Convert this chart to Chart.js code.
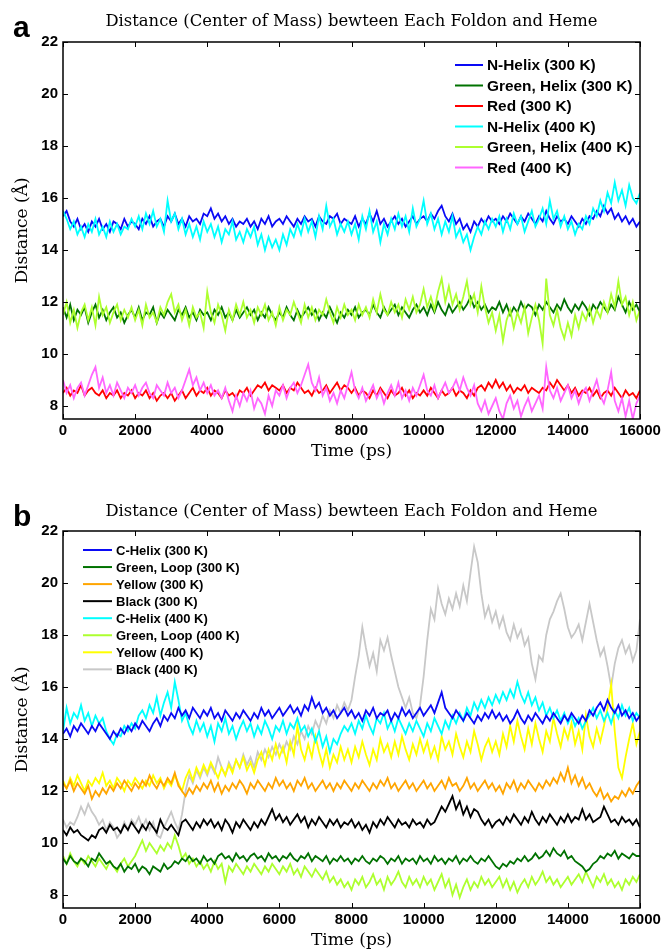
<!DOCTYPE html>
<html>
<head>
<meta charset="utf-8">
<script src="https://cdn.jsdelivr.net/npm/chart.js@4.4.1/dist/chart.umd.min.js"></script>
<style>
  body { margin: 0; background: #fff; }
  .panel { position: absolute; left: 0; width: 662px; height: 460px; }
</style>
</head>
<body>
<div class="panel" style="top:0"><canvas id="chartA" width="662" height="460"></canvas></div>
<div class="panel" style="top:489px"><canvas id="chartB" width="662" height="460"></canvas></div>
<script>
// sampling interval of the trajectories (ps), 161 frames from 0 to 16000
const timeStep = 100;
const yTicks = [8, 10, 12, 14, 16, 18, 20, 22];
const titleText = "Distance (Center of Mass) bewteen Each Foldon and Heme";

// ---- panel a ----
const nHelix300 = [
  15.3, 15.5, 15.1, 14.9, 15.2, 14.8, 15.0, 14.7, 15.1, 14.9, 15.2, 14.8, 15.0, 14.7, 15.1, 15.0, 14.8, 15.2, 14.9, 15.1,
  15.0, 14.8, 15.2, 15.0, 15.3, 14.9, 15.1, 15.2, 14.9, 15.3, 15.1, 15.4, 15.0, 15.2, 14.9, 15.3, 15.1, 15.2, 15.0, 15.4,
  15.3, 15.6, 15.2, 15.4, 15.1, 15.3, 15.0, 15.2, 14.9, 15.1, 15.0, 15.2, 14.9, 15.1, 14.8, 15.2, 15.0, 15.3, 14.9, 15.1,
  15.2, 15.0, 15.3, 15.1, 14.9, 15.2, 15.0, 15.3, 15.1, 15.2, 14.9, 15.3, 15.1, 15.0, 15.3, 15.2, 15.4, 15.0, 15.2, 15.1,
  15.0, 15.3, 14.9, 15.2, 15.0, 15.4, 15.1, 15.5, 15.0, 15.2, 14.9, 15.1, 15.3, 15.0, 15.2, 14.9, 15.1, 15.3, 15.0, 15.2,
  15.3, 15.1, 15.4, 15.2, 15.5, 15.7, 15.3, 15.1, 15.4, 15.0, 15.2, 14.8, 15.0, 14.7, 15.1, 14.9, 15.2, 15.0, 15.3, 15.1,
  15.2, 15.0, 15.3, 15.1, 15.4, 15.2, 15.0, 15.3, 15.1, 15.4, 15.2, 15.0, 15.3, 15.1, 15.5, 15.2, 15.0, 15.3, 15.1, 15.2,
  15.0, 15.3, 15.1, 14.9, 15.2, 15.0, 15.3, 15.2, 15.5, 15.3, 15.7, 15.4, 15.6, 15.2, 15.4, 15.1, 15.3, 15.0, 15.2, 14.9,
  15.1
];
const greenHelix300 = [
  11.8, 11.4, 11.9, 11.3, 11.7, 11.5, 11.8, 11.2, 11.6, 11.9, 11.4, 11.7, 11.3, 11.6, 11.8, 11.4, 11.6, 11.2, 11.5, 11.7,
  11.4, 11.8, 11.3, 11.6, 11.5, 11.8, 11.2, 11.6, 11.4, 11.7, 11.5, 11.3, 11.7, 11.5, 11.8, 11.4, 11.6, 11.3, 11.7, 11.5,
  11.6, 11.3, 11.7, 11.5, 11.8, 11.4, 11.6, 11.3, 11.7, 11.4, 11.6, 11.8, 11.5, 11.7, 11.3, 11.6, 11.4, 11.8, 11.5, 11.3,
  11.6, 11.4, 11.8, 11.5, 11.3, 11.7, 11.4, 11.6, 11.8, 11.5, 11.7, 11.3, 11.6, 11.4, 11.8, 11.5, 11.2, 11.6, 11.4, 11.7,
  11.5, 11.8, 11.4, 11.6, 11.7, 11.5, 11.9, 11.6, 11.4, 11.8, 11.5, 11.7, 11.9, 11.5, 11.8, 11.6, 11.4, 11.7, 11.9, 11.6,
  11.8, 11.5, 11.9, 11.6, 12.0, 11.7, 11.5, 11.9, 11.6, 11.8, 12.0, 11.7, 11.9, 12.2, 11.8, 12.0, 11.7, 11.9, 11.6, 11.8,
  11.7, 12.0, 11.6, 11.9, 11.5, 11.8, 11.6, 12.0, 11.7, 11.9, 11.8, 11.5, 11.9, 11.7, 12.0, 11.8, 11.6, 11.9, 11.7, 12.1,
  11.8, 11.6, 11.9, 11.7, 12.0, 11.8, 11.5, 11.9, 11.7, 12.0, 11.8, 11.6, 11.9, 11.7, 12.2, 11.9, 11.6, 12.0, 11.7, 11.9,
  11.6
];
const red300 = [
  8.5, 8.7, 8.4, 8.6, 8.5, 8.8, 8.4, 8.6, 8.7, 8.5, 8.4, 8.6, 8.3, 8.5, 8.4, 8.6, 8.3, 8.5, 8.4, 8.6,
  8.3, 8.5, 8.4, 8.6, 8.3, 8.5, 8.2, 8.4, 8.5, 8.3, 8.5, 8.2, 8.4, 8.6, 8.3, 8.5, 8.7, 8.4, 8.6, 8.5,
  8.7, 8.4, 8.6, 8.5, 8.3, 8.6, 8.4, 8.5, 8.3, 8.6, 8.5, 8.7, 8.4, 8.6, 8.8, 8.7, 8.9, 8.6, 8.8, 8.7,
  8.6, 8.8, 8.5, 8.7, 8.6, 8.9, 8.7, 8.5, 8.6, 8.4, 8.7, 8.5, 8.6, 8.8, 8.5, 8.7, 8.9, 8.6, 8.8, 8.7,
  8.5, 8.7, 8.4, 8.6, 8.5, 8.3, 8.6, 8.4, 8.7, 8.5, 8.3, 8.6, 8.4, 8.5, 8.7, 8.4, 8.6, 8.3, 8.5, 8.4,
  8.6, 8.4, 8.7, 8.5, 8.3, 8.6, 8.4, 8.5, 8.7, 8.4, 8.6, 8.5, 8.3, 8.6, 8.4, 8.7, 8.8, 8.6, 8.9, 8.7,
  9.0, 8.7, 8.9, 8.6, 8.8, 8.5, 8.7, 8.6, 8.8, 8.5, 8.7, 8.6, 8.5, 8.7, 8.6, 8.9, 8.7, 9.0, 8.8, 8.6,
  8.8, 8.5, 8.7, 8.4, 8.6, 8.5, 8.7, 8.4, 8.6, 8.3, 8.5, 8.6, 8.4, 8.7, 8.5, 8.3, 8.6, 8.4, 8.5, 8.3,
  8.6
];
const nHelix400 = [
  15.5, 15.2, 14.8, 15.1, 14.6, 14.9, 14.5, 15.0, 14.7, 15.2, 14.6, 14.9, 14.5, 15.1, 14.7, 15.0, 14.6, 14.9, 14.8, 15.2,
  14.9, 15.3, 14.8, 15.4, 15.0, 15.5, 14.9, 15.2, 14.7, 15.9, 15.1, 15.4, 14.8, 15.2, 14.6, 15.0, 14.5, 14.9, 14.4, 15.1,
  14.7, 15.0, 14.5, 14.9, 14.3, 14.8, 14.6, 15.1, 14.4, 14.7, 14.3, 14.8, 14.5, 14.9, 14.2, 14.6, 14.0, 14.5, 14.1, 14.4,
  14.0, 14.6, 14.2, 14.8, 14.5, 15.0, 14.6, 15.2, 14.7, 15.1, 14.5, 15.3, 14.8, 15.7, 14.9, 15.2, 14.6, 15.0, 14.7, 15.1,
  14.6, 15.0, 14.4, 15.3, 14.8, 15.5, 14.7, 15.1, 14.3, 15.0, 14.6, 15.2, 14.8, 15.4, 14.9, 15.3, 14.7, 15.6, 14.9, 15.2,
  15.9, 15.0, 15.4, 14.8, 15.2, 14.6, 15.1, 14.7, 15.3, 14.5, 14.8, 14.3, 14.6, 14.0, 14.5, 14.9, 14.6, 15.1, 14.8, 15.2,
  14.9, 15.3, 14.7, 15.2, 14.8, 15.4, 15.0, 15.3, 14.7, 15.1, 15.5, 14.9, 15.2, 15.6, 15.0, 15.9, 15.2, 15.5, 14.9, 15.3,
  14.8, 15.1, 14.6, 15.0, 14.8, 15.3, 15.0, 15.6, 15.3, 15.9, 15.5, 16.2, 15.8, 16.6, 15.9, 16.3, 15.7, 16.5, 16.0, 15.8,
  16.2
];
const greenHelix400 = [
  11.5, 12.0, 11.2, 11.7, 11.0, 11.6, 11.9, 11.3, 11.8, 11.1, 12.2, 11.5, 11.8, 11.2, 11.6, 11.9, 11.3, 11.7, 11.4, 11.8,
  11.3, 11.7, 11.1, 11.9, 11.4, 11.6, 11.2, 11.8, 11.5, 12.0, 12.3, 11.6, 11.9, 11.3, 11.7, 11.1, 11.8, 11.4, 11.6, 11.0,
  12.4, 11.6, 11.2, 11.9, 11.5, 10.9, 11.7, 11.3, 11.9, 11.5, 12.0, 11.4, 11.7, 11.2, 11.8, 11.5, 11.9, 11.3, 11.6, 11.1,
  11.8, 11.3, 11.7, 11.5, 12.0, 11.6, 11.2, 11.9, 11.4, 11.8, 11.3, 11.7, 11.5, 12.1, 11.6, 11.2, 11.8, 11.4, 11.9, 11.5,
  11.7, 11.3, 11.9, 11.5, 11.8, 11.4, 12.1, 11.6, 12.3, 11.7, 11.5, 12.0, 11.6, 11.9, 11.4, 12.1, 11.7, 12.2, 11.6, 11.9,
  12.5, 11.8, 12.2, 11.7, 12.4, 12.9, 12.0, 12.6, 11.9, 12.3, 11.7, 12.2, 12.8, 11.9, 12.3, 11.6, 12.6, 11.8, 11.2, 11.6,
  10.9, 11.5, 10.5, 11.3, 11.7, 11.0, 11.6, 11.2, 11.8, 10.8, 11.4, 11.9, 11.3, 10.4, 12.9, 11.5, 11.1, 11.7, 11.0, 10.6,
  11.2, 10.7, 11.5, 11.0, 11.6, 11.3, 11.8, 11.2, 11.7, 11.4, 12.0, 11.6, 12.3, 11.8, 12.8, 11.9, 12.2, 11.5, 12.0, 11.3,
  11.7
];
const red400 = [
  9.0, 8.5, 8.8, 8.3, 8.7, 8.9, 8.4, 8.8, 9.2, 9.5, 8.7, 9.1, 8.5, 8.8, 8.4, 8.9, 8.6, 8.3, 8.7, 8.5,
  8.8, 8.4, 8.7, 8.9, 8.5, 8.3, 8.8, 8.6, 8.4, 8.9, 8.5, 8.7, 8.3, 8.6, 9.0, 9.4, 8.8, 9.1, 8.6, 8.9,
  8.5, 8.8, 8.4, 8.6, 8.3, 8.7, 8.2, 7.8, 8.4, 8.0, 8.5, 8.2, 8.6, 7.9, 8.3, 8.1, 7.7, 8.4, 8.0, 8.6,
  8.4, 8.8, 8.3, 8.7, 8.9, 8.5, 8.8, 9.2, 9.6, 8.9, 8.6, 9.1, 8.4, 8.7, 8.2, 8.5, 8.1, 8.6, 8.3, 8.8,
  9.3, 8.6, 8.3, 8.7, 8.2, 8.5, 8.8, 8.3, 8.6, 8.1, 8.5, 8.8, 8.4, 8.9, 8.3, 8.6, 8.2, 8.7, 8.4, 8.8,
  9.2, 8.6, 8.4, 8.8, 8.3, 8.6, 8.9, 8.5, 8.7, 9.0, 8.6, 9.1, 8.7, 8.4, 8.8, 8.1, 7.8, 8.2, 7.7, 8.0,
  8.3, 7.8, 7.5, 8.1, 8.4, 7.9, 8.2, 7.6, 8.0, 8.3, 7.8, 8.1, 8.4, 7.9, 9.5, 8.6, 8.3, 8.7, 8.2, 8.5,
  8.8, 8.3, 8.6, 8.1, 8.5, 8.7, 8.2, 8.6, 9.0, 8.4, 8.1, 8.6, 9.3, 8.2, 7.8, 8.3, 7.6, 8.2, 7.5, 8.1,
  8.4
];

// ---- panel b ----
const cHelix300 = [
  14.2, 14.4, 14.1, 14.5, 14.3, 14.6, 14.4, 14.2, 14.5, 14.3, 14.6, 14.4, 14.2, 14.0, 14.3, 14.1, 14.4, 14.2, 14.5, 14.3,
  14.6, 14.4, 14.7, 14.5, 14.3, 14.6, 14.8, 14.5, 14.9, 14.7, 15.0, 14.8, 15.2, 14.9, 15.1, 14.8, 15.2, 15.0, 14.8, 15.1,
  14.9, 15.2, 14.8, 15.0, 14.7, 15.1, 14.9, 14.7, 15.0, 14.8, 15.1, 14.9, 14.7, 15.0, 14.8, 15.2, 14.9, 15.1, 14.8, 15.0,
  15.2, 14.9, 15.1, 15.3, 15.0, 15.2, 14.9, 15.3, 15.1, 15.6, 15.2, 15.4, 15.0, 15.2, 14.9, 15.1, 14.8, 15.0, 15.2, 14.9,
  15.1, 14.8, 15.0, 14.7, 15.1, 14.9, 15.2, 14.8, 15.0, 14.9, 15.1, 14.7, 15.0, 14.8, 15.2, 14.9, 15.1, 14.8, 15.0, 15.2,
  14.9, 15.1, 15.3, 15.0, 15.4, 15.8, 15.2, 15.0, 14.8, 15.1, 14.9, 14.7, 15.0, 14.8, 14.6, 14.9, 14.7, 15.0, 14.8, 15.1,
  14.8, 15.0, 14.7, 14.9, 14.6, 14.8, 15.1, 14.8, 14.6, 14.9, 14.7, 15.0, 14.8, 14.6, 14.9, 14.7, 15.0, 14.8, 14.6, 14.9,
  14.7, 15.0, 14.8, 14.6, 14.9, 14.7, 15.1, 14.9, 15.2, 15.4, 15.1, 15.5, 15.2, 15.0, 15.3, 14.9, 15.1, 14.8, 15.0, 14.7,
  14.9
];
const greenLoop300 = [
  9.4, 9.2, 9.5, 9.3, 9.2, 9.4, 9.3, 9.1, 9.4, 9.3, 9.6, 9.4, 9.2, 9.3, 9.1, 9.0, 9.2, 8.9, 9.1, 9.0,
  9.2, 8.9, 9.1, 9.0, 8.8, 9.1, 9.0, 8.9, 9.2, 9.0, 9.1, 9.3, 9.2, 9.4, 9.3, 9.5, 9.3, 9.4, 9.2, 9.5,
  9.3, 9.4, 9.2, 9.5, 9.6, 9.4, 9.5, 9.3, 9.6, 9.4, 9.5, 9.3, 9.5, 9.6, 9.4, 9.5, 9.3, 9.6, 9.4, 9.5,
  9.3, 9.5, 9.4, 9.6, 9.4, 9.3, 9.5, 9.4, 9.6, 9.3, 9.5, 9.4, 9.3, 9.5, 9.2, 9.4, 9.3, 9.5, 9.3, 9.4,
  9.2, 9.4, 9.3, 9.5, 9.3, 9.2, 9.4, 9.3, 9.5, 9.4, 9.2, 9.4, 9.3, 9.5, 9.2, 9.4, 9.3, 9.4, 9.2, 9.5,
  9.3, 9.4, 9.2, 9.5, 9.3, 9.4, 9.2, 9.4, 9.3, 9.5, 9.2, 9.4, 9.3, 9.5, 9.3, 9.2, 9.4, 9.3, 9.5, 9.3,
  9.1, 9.0, 9.2, 9.1, 9.3, 9.2, 9.4, 9.3, 9.5, 9.3, 9.4, 9.6, 9.4, 9.5, 9.7, 9.5, 9.8, 9.6, 9.5, 9.7,
  9.4, 9.5, 9.3, 9.2, 9.1, 8.9, 9.0, 9.2, 9.3, 9.5, 9.4, 9.6, 9.5, 9.7, 9.4, 9.6, 9.5, 9.4, 9.6, 9.5,
  9.5
];
const yellow300 = [
  12.3, 12.1, 12.4, 12.0, 12.3, 12.1, 11.9, 12.2, 11.7, 12.0, 11.8, 12.1, 11.9, 12.2, 12.0, 12.3, 12.1, 12.4, 12.2, 12.0,
  12.3, 12.1, 12.4, 12.2, 12.6, 12.3, 12.1, 12.4, 12.2, 12.5, 12.3, 12.7, 12.2, 12.0, 11.8, 12.1, 11.9, 12.2, 12.0, 12.3,
  12.1, 12.4, 12.0, 12.3, 11.9, 12.2, 12.0, 12.3, 12.1, 12.4, 12.2, 11.9, 12.3, 12.1, 12.4, 12.2, 12.0, 12.3, 12.1, 12.5,
  12.2, 12.4, 12.1, 12.3, 12.0, 12.4, 12.2, 12.5, 12.1, 12.3, 12.0, 12.2, 12.4, 12.1, 12.3, 12.0, 12.3, 12.1, 12.4, 12.2,
  12.0, 12.3, 12.1, 12.4, 12.2, 12.0, 12.3, 12.1, 12.4, 12.2, 12.5, 12.1, 12.3, 12.0, 12.2, 12.4, 12.1, 12.3, 12.0, 12.2,
  12.4, 12.1, 12.3, 12.0, 12.2, 12.4, 12.1, 12.5, 12.2, 12.3, 12.0, 12.2, 12.5, 12.1, 12.3, 12.0, 12.2, 12.4, 12.1, 12.3,
  12.0, 12.2, 11.9, 12.3, 12.1, 12.4, 12.0, 12.3, 12.1, 12.4, 12.2, 12.0, 12.3, 12.1, 12.4, 12.2, 12.5, 12.3, 12.7, 12.4,
  12.9, 12.3, 12.6, 12.2, 12.5, 12.1, 12.3, 12.0, 11.8, 12.1, 11.7, 11.9, 11.6, 11.8, 11.7, 12.0, 11.8, 12.1, 11.9, 12.2,
  12.4
];
const black300 = [
  10.5, 10.3, 10.6, 10.4, 10.5, 10.3, 10.2, 10.1, 10.3, 10.2, 10.5, 10.6, 10.4, 10.7, 10.5, 10.6, 10.4, 10.7, 10.5, 10.8,
  10.6, 10.4, 10.7, 10.5, 10.8, 10.6, 10.4, 10.9, 10.6, 10.5, 10.7, 10.5, 10.3, 10.8, 10.9, 10.7, 10.5, 10.8, 10.6, 10.9,
  10.7, 10.9, 10.6, 10.8, 10.5, 10.9, 10.7, 10.4, 10.8, 10.6, 10.9, 10.7, 10.5, 10.8, 10.6, 10.9, 10.7, 11.0, 11.3, 10.9,
  11.1, 10.8, 11.0, 10.7, 10.9, 11.1, 10.8, 11.0, 10.6, 10.9, 10.7, 11.0, 10.8, 10.6, 10.9, 10.7, 10.9, 10.6, 10.8, 10.7,
  10.9, 10.6, 10.8, 10.5, 10.7, 10.4, 10.8, 10.6, 10.9, 10.7, 11.0, 10.8, 10.6, 10.9, 10.7, 10.8, 10.6, 10.9, 10.7, 10.8,
  10.6, 10.9, 10.7, 10.8, 11.1, 11.4, 11.2, 11.5, 11.8, 11.3, 11.6, 11.1, 11.4, 11.0, 11.3, 11.2, 10.9, 10.7, 10.9, 10.6,
  10.8, 10.9, 10.7, 11.0, 10.8, 11.1, 10.9, 10.7, 11.0, 10.8, 11.2, 10.9, 10.7, 11.0, 10.8, 11.1, 10.9, 10.7, 11.0, 10.8,
  11.1, 10.8, 11.0, 10.9, 11.3, 10.9, 11.1, 10.8, 10.9, 11.0, 11.4, 11.1, 10.8, 10.9, 10.7, 11.0, 10.8, 10.9, 10.7, 10.9,
  10.6
];
const cHelix400 = [
  14.3, 15.2, 14.6, 15.0, 14.8, 15.3, 14.7, 15.0, 14.5, 14.9, 14.6, 14.8, 14.3, 14.0, 13.8, 14.2, 14.1, 14.5, 14.3, 14.6,
  14.4, 14.9, 15.1, 14.8, 15.3, 15.0, 15.6, 14.9, 15.4, 15.8, 15.2, 16.2, 15.5, 14.7, 15.0, 14.5, 14.2, 14.7, 14.3, 14.6,
  14.1, 14.5, 13.9, 14.6, 14.3, 14.8, 14.2, 14.5, 14.0, 14.4, 14.7, 14.3, 14.6, 14.1, 14.5, 14.2, 14.7, 14.4, 14.0, 14.5,
  14.3, 14.7, 14.2, 14.6, 14.4, 14.8, 14.3, 14.5, 14.1, 14.4, 13.9, 14.3, 13.7, 14.1, 13.5, 14.0, 13.8, 14.2, 14.5, 14.3,
  14.6, 14.2, 14.7, 14.4, 14.9, 14.5, 14.2, 14.8, 14.6, 15.0, 14.4, 14.7, 14.3, 14.8, 14.5, 14.2, 14.6, 14.3, 14.7, 14.4,
  14.1, 14.6, 14.3, 14.8, 14.5, 14.2, 14.7, 14.4, 14.9, 14.6, 15.0, 14.7, 15.2, 14.9, 15.4, 15.1, 15.5, 15.2, 15.6, 15.3,
  15.7, 15.4, 15.8, 15.5, 15.9, 15.6, 16.2, 15.7, 15.4, 15.8, 15.3, 15.6, 15.1, 15.4, 14.9, 15.2, 14.8, 15.1, 14.7, 15.0,
  14.6, 14.9, 14.5, 14.8, 14.4, 14.7, 14.9, 15.2, 14.8, 15.1, 14.7, 15.0, 14.6, 15.1, 14.8, 15.3, 14.9, 15.2, 14.7, 15.0,
  14.8
];
const greenLoop400 = [
  9.5, 9.2, 9.6, 9.3, 9.1, 9.4, 9.2, 9.5, 9.3, 9.1, 9.4, 9.2, 9.0, 9.3, 9.1, 8.9, 9.2, 9.4, 9.1, 9.3,
  9.5, 9.8, 10.1, 9.7, 10.0, 9.8, 9.6, 9.9, 9.7, 10.0, 9.8, 10.3, 9.9, 9.4, 9.6, 9.2, 9.4, 9.1, 9.3, 9.0,
  9.2, 8.9, 9.3, 9.0, 9.2, 8.5, 9.1, 8.9, 9.2, 9.0, 8.8, 9.1, 8.9, 9.2, 9.0, 8.8, 9.1, 8.9, 9.2, 9.0,
  8.8, 9.1, 8.9, 9.2, 8.8, 9.0, 8.7, 9.1, 8.9, 8.7, 9.0, 8.8, 8.6, 8.9, 8.5, 8.7, 8.4, 8.6, 8.3, 8.5,
  8.2, 8.6, 8.4, 8.7, 8.3, 8.5, 8.8, 8.4, 8.6, 8.2, 8.7, 8.4, 8.6, 8.9, 8.5, 8.3, 8.7, 8.4, 8.6, 8.3,
  8.7, 8.4, 8.6, 8.2, 8.5, 8.8, 8.3, 8.6, 8.0, 8.4, 7.9, 8.3, 8.6, 8.2, 8.5, 8.3, 8.7, 8.4, 8.6, 8.3,
  8.5, 8.7, 8.3, 8.6, 8.2, 8.5, 8.1, 8.4, 8.6, 8.3, 8.7, 8.4, 8.6, 8.9, 8.5, 8.7, 8.4, 8.6, 8.3, 8.5,
  8.7, 8.4, 8.6, 8.8, 8.5, 8.9, 8.6, 8.3, 8.7, 8.5, 8.8, 8.4, 8.6, 8.3, 8.5, 8.2, 8.6, 8.4, 8.7, 8.5,
  8.8
];
const yellow400 = [
  12.4, 12.1, 12.5, 12.2, 12.6, 12.3, 12.0, 12.4, 12.2, 12.5, 12.3, 12.7, 12.2, 12.4, 12.1, 12.5, 12.3, 12.0, 12.4, 12.2,
  12.5, 12.3, 12.1, 12.4, 12.2, 12.6, 12.3, 12.5, 12.1, 12.4, 12.2, 12.6, 12.3, 12.0, 12.5, 12.8, 12.4, 12.9, 12.6, 13.0,
  12.7, 13.1, 12.8, 12.5, 12.9, 12.6, 13.0, 12.7, 13.2, 12.9, 13.3, 12.8, 13.1, 12.7, 13.2, 13.5, 13.0, 13.6, 13.2, 13.8,
  13.3, 13.7, 13.1, 13.9, 13.4, 14.5, 13.6, 13.2, 13.8, 13.3, 14.1, 13.5, 13.0, 13.6, 12.9, 13.4, 13.1, 13.7, 13.2, 13.6,
  13.1, 13.7, 13.3, 13.9, 13.4, 13.0, 13.6, 13.2, 14.0, 13.5, 13.8, 13.3, 13.9, 13.4, 14.1, 13.6, 13.2, 13.8, 13.4, 14.0,
  13.5, 13.9, 13.3, 13.7, 13.2, 14.1, 13.6, 13.9, 13.4, 14.2, 13.7, 13.3, 13.9, 13.5, 14.3, 13.8, 13.2, 13.7, 14.0, 13.5,
  13.9, 13.4, 14.2, 13.7, 14.5, 13.9, 14.7, 14.1, 13.6, 14.4, 13.8, 14.6, 14.0, 13.5, 14.3, 13.9, 14.8, 14.2, 13.7, 14.4,
  14.0, 14.6, 13.8, 14.3, 13.6, 14.9, 14.1, 13.7, 14.4, 13.9, 14.5, 15.2, 16.1, 14.3, 12.9, 12.5, 13.3, 14.0, 14.6, 13.8,
  14.3
];
const black400 = [
  10.9, 10.6, 10.8, 10.7, 11.0, 11.4, 11.1, 11.5, 11.2, 11.0, 10.7, 10.9, 10.5, 10.8, 10.6, 10.2, 10.4, 10.8, 10.5, 10.9,
  10.7, 11.0, 10.6, 10.9, 10.5, 10.8, 10.3, 10.2, 10.6, 10.9, 11.2, 10.8, 10.5, 11.1, 12.0, 12.6, 12.3, 12.8, 12.5, 12.9,
  12.6, 13.0, 12.7, 13.3, 12.9, 12.6, 13.1, 12.8, 13.2, 12.9, 13.4, 13.0, 13.3, 12.9, 13.5, 13.2, 13.6, 13.3, 13.7, 13.4,
  13.8, 13.5, 13.9, 13.6, 14.1, 13.8, 14.3, 14.0, 14.5, 14.2, 14.7, 14.4, 14.9, 14.6, 15.1, 14.8, 15.3, 15.0, 15.4, 15.1,
  15.5, 16.4, 17.2, 18.3, 17.5, 16.8, 17.3, 16.6, 17.8, 17.4, 17.9, 17.2, 16.6, 16.0, 15.6, 15.2, 15.6, 15.0, 14.8, 15.3,
  16.4, 17.8, 19.0, 18.6, 19.8, 19.2, 18.8, 19.4, 19.0, 19.6, 19.1, 19.9, 19.3, 20.4, 21.4, 20.8, 19.6, 18.7, 19.1, 18.5,
  18.9, 18.3, 18.7, 18.1, 17.8, 18.4, 17.9, 18.2, 17.6, 17.9, 16.9, 16.3, 17.2, 17.0, 18.0, 18.6, 18.9, 19.3, 19.6, 19.0,
  18.3, 17.9, 18.1, 18.4, 17.8, 18.5, 19.2, 18.5, 17.8, 17.2, 17.5, 16.8, 16.0, 16.9, 17.5, 17.8, 17.3, 17.6, 17.0, 17.4,
  18.6
];

const toPoints = vals => vals.map((v, i) => ({ x: i * timeStep, y: v }));

const series = (label, vals, color, order) => ({
  label: label,
  data: toPoints(vals),
  borderColor: color,
  backgroundColor: color,
  borderWidth: 1.8,
  pointRadius: 0,
  tension: 0,
  order: order
});

// frame, inward ticks, title, legend and panel letter (MATLAB look)
const panelDecor = {
  id: 'panelDecor',
  afterDraw(chart, args, opts) {
    const { ctx, chartArea: a, scales } = chart;
    ctx.save();
    ctx.strokeStyle = '#000';
    ctx.lineWidth = 1;
    ctx.beginPath();
    scales.y.ticks.forEach(t => {
      const y = Math.round(scales.y.getPixelForValue(t.value)) + 0.5;
      ctx.moveTo(a.left, y); ctx.lineTo(a.left + 5, y);
      ctx.moveTo(a.right, y); ctx.lineTo(a.right - 5, y);
    });
    scales.x.ticks.forEach(t => {
      const x = Math.round(scales.x.getPixelForValue(t.value)) + 0.5;
      ctx.moveTo(x, a.bottom); ctx.lineTo(x, a.bottom - 5);
      ctx.moveTo(x, a.top); ctx.lineTo(x, a.top + 5);
    });
    ctx.stroke();
    ctx.lineWidth = 1.5;
    ctx.strokeRect(a.left, a.top, a.right - a.left, a.bottom - a.top);

    // title
    ctx.fillStyle = '#000';
    ctx.font = '16.4px "DejaVu Serif"';
    ctx.textAlign = 'center';
    ctx.textBaseline = 'alphabetic';
    ctx.fillText(titleText, (a.left + a.right) / 2, opts.titleY);

    // panel letter
    ctx.font = 'bold 30px "Liberation Sans"';
    ctx.textAlign = 'left';
    ctx.fillText(opts.letter, 13, 37);

    // legend
    const lg = opts.legend;
    ctx.font = 'bold ' + lg.fontSize + 'px "Liberation Sans"';
    ctx.textBaseline = 'middle';
    chart.data.datasets.forEach((ds, i) => {
      const y = lg.y + i * lg.rowH;
      ctx.strokeStyle = ds.borderColor;
      ctx.lineWidth = 2;
      ctx.beginPath();
      ctx.moveTo(lg.x, y); ctx.lineTo(lg.x + lg.lineLen, y);
      ctx.stroke();
      ctx.fillStyle = '#000';
      ctx.fillText(ds.label, lg.x + lg.lineLen + 4, y + 1);
    });
    ctx.restore();
  }
};

function makeOptions(decor) {
  return {
    responsive: false,
    animation: false,
    devicePixelRatio: 1,
    layout: { padding: { top: 42, right: 22, left: 0, bottom: 0 } },
    plugins: {
      legend: { display: false },
      title: { display: false },
      tooltip: { enabled: false },
      panelDecor: decor
    },
    scales: {
      x: {
        type: 'linear',
        min: 0,
        max: 16000,
        afterFit: s => { s.height = 41; s.paddingLeft = 0; s.paddingRight = 0; },
        ticks: {
          stepSize: 2000,
          padding: 3,
          color: '#000',
          maxRotation: 0,
          font: { family: 'Liberation Sans', size: 15, weight: 'bold' },
          callback: v => String(v)
        },
        grid: { display: false, drawTicks: false },
        border: { display: false },
        title: {
          display: true,
          text: 'Time (ps)',
          color: '#000',
          font: { family: 'DejaVu Serif', size: 17, lineHeight: 1 },
          padding: { top: 0, bottom: 0 }
        }
      },
      y: {
        min: 7.5,
        max: 22,
        afterFit: s => { s.width = 63; s.paddingTop = 0; s.paddingBottom = 0; },
        afterBuildTicks: s => { s.ticks = yTicks.map(v => ({ value: v })); },
        ticks: {
          padding: 5,
          color: '#000',
          font: { family: 'Liberation Sans', size: 15, weight: 'bold' }
        },
        grid: { display: false, drawTicks: false },
        border: { display: false },
        title: {
          display: true,
          text: 'Distance (Å)',
          color: '#000',
          font: { family: 'DejaVu Serif', size: 17, lineHeight: 1.2 },
          padding: { top: 12, bottom: 0 }
        }
      }
    }
  };
}

new Chart(document.getElementById('chartA'), {
  type: 'line',
  data: {
    datasets: [
      series('N-Helix (300 K)', nHelix300, '#0a0af5', 1),
      series('Green, Helix (300 K)', greenHelix300, '#007200', 1),
      series('Red (300 K)', red300, '#ff0000', 1),
      series('N-Helix (400 K)', nHelix400, '#00ffff', 0),
      series('Green, Helix (400 K)', greenHelix400, '#adff2f', 0),
      series('Red (400 K)', red400, '#ff66ff', 0)
    ]
  },
  options: makeOptions({
    letter: 'a',
    titleY: 26,
    legend: { x: 455, y: 65, rowH: 20.5, lineLen: 28, fontSize: 15.4 }
  }),
  plugins: [panelDecor]
});

new Chart(document.getElementById('chartB'), {
  type: 'line',
  data: {
    datasets: [
      series('C-Helix (300 K)', cHelix300, '#0a0af5', 0),
      series('Green, Loop (300 K)', greenLoop300, '#007200', 0),
      series('Yellow (300 K)', yellow300, '#ffa500', 0),
      series('Black (300 K)', black300, '#000000', 0),
      series('C-Helix (400 K)', cHelix400, '#00ffff', 0),
      series('Green, Loop (400 K)', greenLoop400, '#adff2f', 0),
      series('Yellow (400 K)', yellow400, '#ffff00', 0),
      series('Black (400 K)', black400, '#c8c8c8', 0)
    ]
  },
  options: makeOptions({
    letter: 'b',
    titleY: 27,
    legend: { x: 83, y: 61, rowH: 17.05, lineLen: 29, fontSize: 13 }
  }),
  plugins: [panelDecor]
});
</script>
</body>
</html>
